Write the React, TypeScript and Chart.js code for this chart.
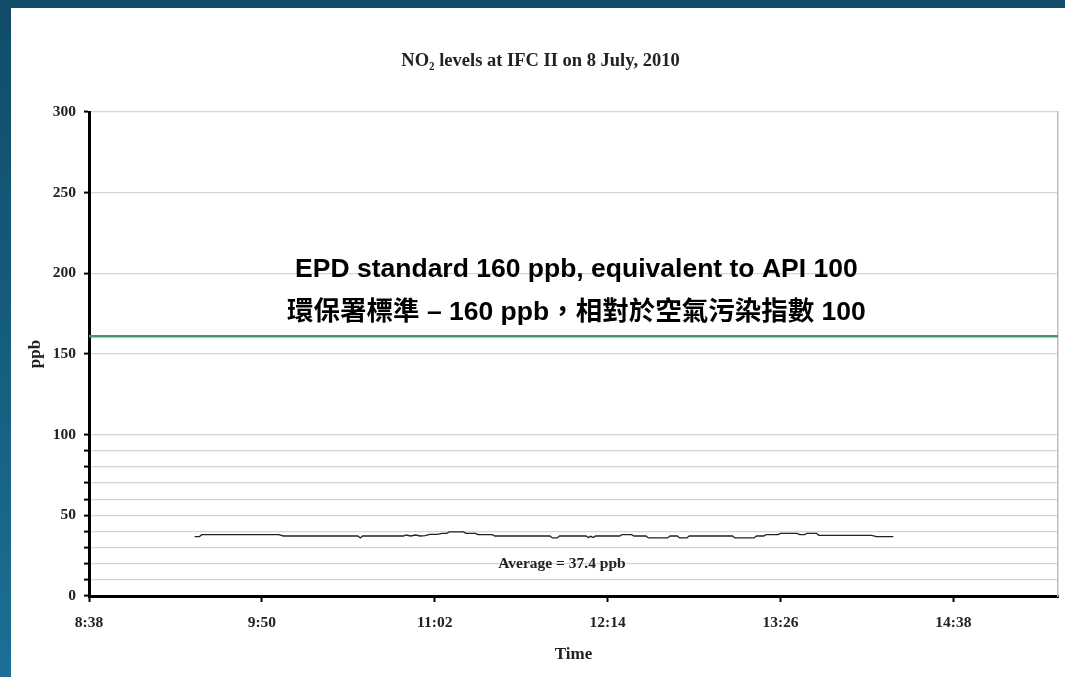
import { useEffect, useRef } from "react";
import { Chart, registerables } from "chart.js";

Chart.register(...registerables);

// ---- data ----
const TIMES = [
  "9:22", "9:24", "9:25", "9:57", "9:59", "10:30", "10:31", "10:32", "10:49", "10:50",
  "10:52", "10:54", "10:56", "10:58", "11:00", "11:03", "11:05", "11:07", "11:08", "11:14",
  "11:15", "11:19", "11:20", "11:26", "11:27", "11:50", "11:51", "11:53", "11:54", "12:05",
  "12:06", "12:07", "12:08", "12:09", "12:19", "12:20", "12:24", "12:25", "12:30", "12:31",
  "12:39", "12:40", "12:43", "12:44", "12:47", "12:48", "13:06", "13:07", "13:15", "13:16",
  "13:19", "13:20", "13:25", "13:26", "13:33", "13:34", "13:36", "13:37", "13:41", "13:42",
  "14:04", "14:06", "14:13",
];
const NO2_PPB = [
  36.8, 36.8, 38.0, 38.0, 37.2, 37.2, 36.0, 37.2, 37.2, 37.8,
  37.2, 37.8, 37.2, 37.4, 38.2, 38.2, 38.8, 38.8, 39.7, 39.7,
  38.8, 38.8, 38.0, 38.0, 37.2, 37.2, 36.0, 36.0, 37.2, 37.2,
  36.2, 37.0, 36.2, 37.2, 37.2, 38.0, 38.0, 37.2, 37.2, 36.0,
  36.0, 37.2, 37.2, 36.0, 36.0, 37.2, 37.2, 36.0, 36.0, 37.2,
  37.2, 38.0, 38.0, 38.8, 38.8, 38.0, 38.0, 38.8, 38.8, 37.6,
  37.6, 36.8, 36.8,
];
const X_TICK_LABELS = ["8:38", "9:50", "11:02", "12:14", "13:26", "14:38"];
const X_AXIS_END_MIN = 921.6; // 0.64 day
const Y_TICKS = [0, 10, 20, 30, 40, 50, 60, 70, 80, 90, 100, 150, 200, 250, 300];
const Y_LABELLED_STEP = 50;
const STANDARD_PPB = 161;

const TITLE = "NO\u2082 levels at IFC II on 8 July, 2010";
const ANNOTATION_EN = "EPD standard 160 ppb, equivalent to API 100";
const ANNOTATION_ZH = "環保署標準 – 160 ppb，相對於空氣污染指數 100";
const AVERAGE_LABEL = "Average = 37.4 ppb";
// annotation anchors in data coordinates [time, ppb]
const ANNOTATION_EN_AT = ["12:01", 202.1];
const ANNOTATION_ZH_AT = ["12:01", 175.5];
const AVERAGE_AT = ["11:55", 19.6];

const toMin = (t: string) => {
  const [h, m] = t.split(":").map(Number);
  return h * 60 + m;
};

const SERIF = "'Liberation Serif', 'DejaVu Serif', serif";
const SANS = "'Liberation Sans', Arial, sans-serif";
const CJK = "'Liberation Sans', 'Noto Sans CJK TC', sans-serif";

export default function App() {
  const ref = useRef<HTMLCanvasElement | null>(null);

  useEffect(() => {
    if (!ref.current) return;
    const xMin = toMin(X_TICK_LABELS[0]);
    const textPlugin = {
      id: "annotText",
      afterDatasetsDraw(chart: any) {
        const { ctx, scales } = chart;
        const x = scales.x;
        const y = scales.y;
        ctx.save();
        ctx.textAlign = "center";
        ctx.textBaseline = "middle";
        ctx.fillStyle = "#000";
        ctx.font = `bold 26.5px ${SANS}`;
        ctx.fillText(
          ANNOTATION_EN,
          x.getPixelForValue(toMin(ANNOTATION_EN_AT[0] as string)),
          y.getPixelForValue(ANNOTATION_EN_AT[1] as number)
        );
        ctx.font = `bold 26.5px ${CJK}`;
        ctx.fillText(
          ANNOTATION_ZH,
          x.getPixelForValue(toMin(ANNOTATION_ZH_AT[0] as string)),
          y.getPixelForValue(ANNOTATION_ZH_AT[1] as number)
        );
        ctx.font = `bold 15.5px ${SERIF}`;
        ctx.fillStyle = "#222";
        ctx.fillText(
          AVERAGE_LABEL,
          x.getPixelForValue(toMin(AVERAGE_AT[0] as string)),
          y.getPixelForValue(AVERAGE_AT[1] as number)
        );
        ctx.restore();
      },
    };

    const chart = new Chart(ref.current, {
      type: "line",
      data: {
        datasets: [
          {
            label: "NO2",
            data: TIMES.map((t, i) => ({ x: toMin(t), y: NO2_PPB[i] })),
            borderColor: "#222",
            borderWidth: 1.3,
            pointRadius: 0,
            tension: 0,
          },
          {
            label: "EPD standard",
            data: [
              { x: xMin, y: STANDARD_PPB },
              { x: X_AXIS_END_MIN, y: STANDARD_PPB },
            ],
            borderColor: "#3a9c6c",
            borderWidth: 2.5,
            pointRadius: 0,
          },
        ],
      },
      options: {
        animation: false,
        responsive: false,
        devicePixelRatio: 1,
        layout: { padding: { left: 12, right: 7, top: 0, bottom: 0 } },
        plugins: {
          legend: { display: false },
          tooltip: { enabled: false },
          title: {
            display: true,
            text: TITLE,
            color: "#222",
            font: { family: SERIF, size: 18.5, weight: "bold" },
            padding: { top: 42, bottom: 39.8 },
          },
        },
        scales: {
          x: {
            type: "linear",
            min: xMin,
            max: X_AXIS_END_MIN,
            afterBuildTicks: (s: any) => {
              s.ticks = X_TICK_LABELS.map((l) => ({ value: toMin(l) }));
            },
            afterFit: (s: any) => {
              s.height = 81;
            },
            ticks: {
              autoSkip: false,
              maxRotation: 0,
              padding: 12,
              color: "#222",
              font: { family: SERIF, size: 15.5, weight: "bold" },
              callback: (v: any) => {
                const i = X_TICK_LABELS.findIndex((l) => toMin(l) === v);
                return i >= 0 ? X_TICK_LABELS[i] : "";
              },
            },
            grid: {
              drawOnChartArea: false,
              drawTicks: true,
              tickLength: 6,
              tickColor: "#000",
              tickWidth: 2,
            },
            border: { display: true, color: "#000", width: 3 },
            title: {
              display: true,
              text: "Time",
              color: "#222",
              font: { family: SERIF, size: 17, weight: "bold" },
              padding: { top: 4, bottom: 12 },
            },
          },
          y: {
            type: "linear",
            min: 0,
            max: 300,
            afterBuildTicks: (s: any) => {
              s.ticks = Y_TICKS.map((v) => ({ value: v }));
            },
            afterFit: (s: any) => {
              s.width = 66;
            },
            ticks: {
              autoSkip: false,
              padding: 8,
              color: "#222",
              font: { family: SERIF, size: 15.5, weight: "bold" },
              callback: (v: any) => (Number(v) % Y_LABELLED_STEP === 0 ? String(v) : ""),
            },
            grid: {
              color: "#d6d6d6",
              lineWidth: 1.2,
              drawTicks: true,
              tickLength: 5,
              tickColor: "#000",
              tickWidth: 2,
            },
            border: { display: true, color: "#000", width: 3 },
            title: {
              display: true,
              text: "ppb",
              color: "#222",
              font: { family: SERIF, size: 17, weight: "bold" },
              padding: { top: 2, bottom: 4 },
            },
          },
          yRight: {
            type: "linear",
            position: "right",
            min: 0,
            max: 300,
            afterFit: (s: any) => {
              s.width = 0;
            },
            ticks: { display: false },
            grid: { display: false, drawTicks: false },
            border: { display: true, color: "#bdbdbd", width: 1.5 },
          },
        },
      },
      plugins: [textPlugin],
    } as any);
    return () => chart.destroy();
  }, []);

  return (
    <div
      style={{
        position: "fixed",
        left: 0,
        top: 0,
        width: 1065,
        height: 677,
        background: "linear-gradient(to bottom, #114c68 0%, #155d7e 50%, #1b7095 100%)",
        overflow: "hidden",
      }}
    >
      <div
        style={{
          position: "absolute",
          left: 11,
          top: 8,
          width: 1054,
          height: 669,
          background: "#fff",
        }}
      >
        <canvas ref={ref} width={1054} height={669} style={{ display: "block" }} />
      </div>
    </div>
  );
}
